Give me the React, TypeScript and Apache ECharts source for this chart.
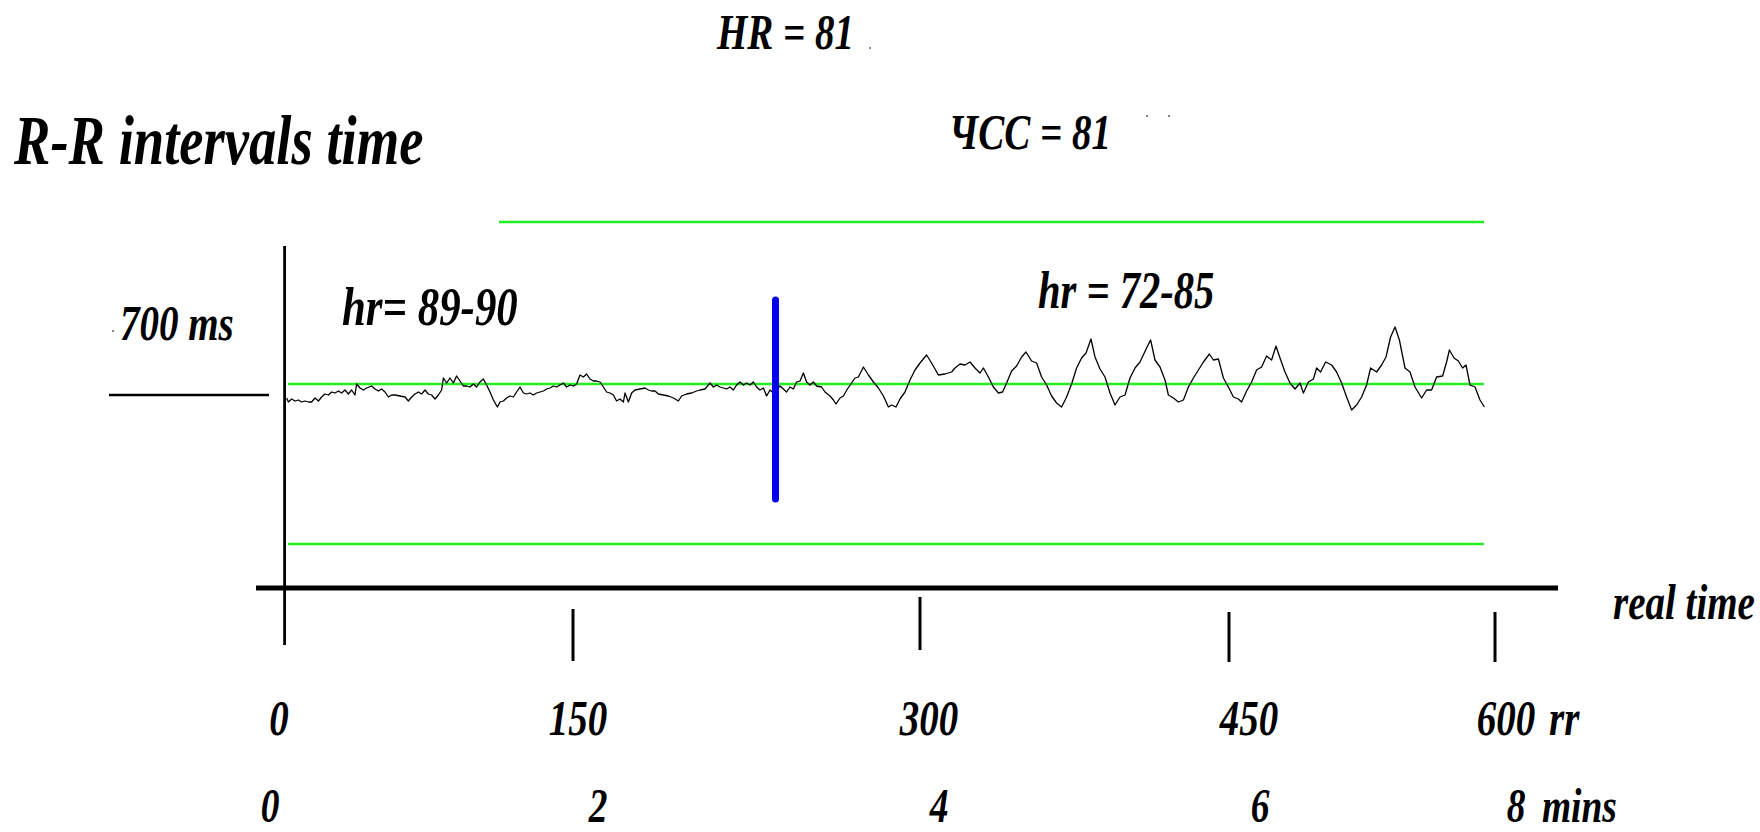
import React, { useEffect, useRef } from "react";
import * as echarts from "echarts";

// ---- Data (beat number = rr index, value = R-R interval in ms) ----
const restSegment: [number, number][] = [
  [0.3, 697], [1.2, 693], [2.8, 696], [4.5, 694], [6.2, 695], [7.8, 693], [9.5, 694], [11.2, 693],
  [12.8, 693], [14.5, 697], [16.2, 694], [17.8, 698], [19.5, 701], [21.2, 700], [22.8, 703], [24.5, 702],
  [26.2, 704], [27.8, 702], [29.5, 705], [31.2, 701], [32.8, 705], [34.5, 700], [35.3, 711], [37, 707],
  [38.7, 705], [40.3, 707], [42.8, 709], [44.5, 706], [46.2, 704], [47.8, 706], [49.5, 703], [51.2, 698],
  [52.8, 700], [54.5, 700], [57, 699], [59.5, 698], [61.2, 694], [62.8, 698], [64.5, 701], [66.2, 703],
  [67.8, 701], [69.5, 705], [71.2, 701], [72.8, 700], [74.5, 696], [76.2, 700], [77.8, 705], [78.7, 717],
  [80.3, 712], [82, 717], [83.7, 712], [85.3, 719], [87, 714], [88.7, 709], [90.3, 709], [92, 708],
  [93.7, 711], [95.3, 708], [97, 713], [98.7, 716], [100.3, 710], [102, 703], [103.7, 695], [105.7, 688],
  [107, 693], [108.7, 694], [110.3, 697], [112, 699], [113.7, 698], [115.3, 703], [117, 708], [118.7, 702],
  [120.3, 701], [122, 702], [123.7, 700], [125.3, 702], [127, 703], [128.7, 704], [130.3, 706], [132, 707],
  [133.7, 709], [135.3, 708], [137, 710], [138.7, 712], [140.3, 708], [142, 710], [143.7, 709], [145.3, 711],
  [147, 720], [148.7, 718], [150.3, 721], [152, 716], [153.7, 714], [155.3, 714], [157, 713], [158.7, 708],
  [160.3, 703], [162, 702], [163.7, 700], [165.3, 694], [167, 696], [168.7, 693], [169.5, 702], [171.2, 693],
  [172.8, 702], [174.5, 705], [177, 706], [179.5, 707], [181.2, 705], [182.8, 704], [184.5, 704], [186.2, 701],
  [188.7, 700], [191.2, 699], [193.7, 697], [196.2, 694], [197.8, 699], [200.3, 701], [202.8, 702], [205.3, 704],
  [207, 705], [209.5, 706], [212, 712], [213.7, 708], [215.3, 710], [217, 708], [218.7, 707], [220.3, 706],
  [222, 708], [223.7, 705], [225.3, 710], [227, 713], [228.7, 710], [230.3, 712], [232, 710], [233.7, 713],
  [235.3, 708],
];

const transitionSegment: [number, number][] = [
  [237, 705], [238.7, 707], [240.3, 699], [242, 705], [243.7, 702], [247, 709], [248.7, 706], [250.3, 703],
  [252, 708], [253.7, 706], [255.3, 713], [257, 714], [258.7, 722], [260.3, 713], [262, 710], [263.7, 713],
  [265.3, 709], [267.8, 708], [269.5, 703], [272, 699], [273.7, 695], [275, 691], [277, 697], [278.7, 699],
  [280.7, 706], [282.8, 712], [284.5, 717], [286.2, 718], [288.7, 728], [291.2, 720], [293.7, 713], [296.2, 707],
  [298.7, 699], [301.2, 688], [302.8, 690], [305, 688], [307, 696], [309.5, 703], [312, 715], [314.5, 725],
  [317, 732], [320.3, 740], [322.8, 732], [326.2, 720], [329.5, 721], [332.8, 723], [334.5, 727], [337, 731],
  [339.5, 730], [342, 733], [344.5, 727], [347, 722], [348.7, 727], [351.2, 718], [353.7, 708], [356.2, 702],
  [358.3, 703], [360.3, 712], [362.8, 724], [365.3, 729], [367.8, 738], [370, 743], [372.8, 734], [375.3, 732],
  [377.8, 718], [380.3, 710], [382.8, 699], [385.3, 692], [387.8, 688], [390.3, 698], [392.8, 711], [395.3, 727],
  [397.8, 737], [400, 742], [402.5, 756], [404.5, 738], [407, 726], [409.5, 718], [412, 702], [414.5, 690],
  [417, 698], [419.5, 700], [422, 717], [424.5, 727], [427, 733], [430.3, 747], [432.3, 755],
];

const loadSegment: [number, number][] = [
  [434.5, 735], [437, 728], [439.5, 715], [441.2, 700], [443.7, 697], [446.2, 693], [448.7, 695], [451.2, 708],
  [453.7, 717], [456.2, 725], [458.7, 733], [461.7, 741], [463.7, 735], [466.2, 736], [468.7, 717], [471.2, 708],
  [473.7, 698], [476.2, 696], [477.8, 693], [480.3, 704], [482.8, 713], [485.3, 725], [487.8, 728], [490.3, 739],
  [492.8, 735], [495, 749], [497, 737], [499.5, 723], [502, 712], [504.5, 706], [507, 712], [508.7, 702],
  [511.2, 713], [513.7, 716], [515.3, 727], [517.3, 723], [519.8, 733], [522.8, 730], [525.3, 723], [527.8, 712],
  [530.3, 698], [532.8, 685], [535.3, 690], [537.8, 698], [540.3, 710], [542.3, 727], [545.3, 723], [547.8, 730],
  [550, 738], [552.3, 758], [554.5, 768], [556.7, 755], [559.5, 727], [562, 723], [564.5, 708], [567.8, 697],
  [570.3, 705], [572.8, 705], [575.3, 718], [578.3, 719], [580.3, 733], [581.7, 745], [584, 737], [586.2, 734],
  [588.3, 727], [590, 730], [592, 710], [594.5, 708], [597, 695], [599.2, 688],
];

// Reference levels (ms) and their beat ranges
const upperLevelMs = 873;
const upperLevelBeats = [106.5, 599];
const meanLevelMs = 711;
const lowerLevelMs = 551;
const levelBeats = [1, 599];

// Blue marker: switch point
const switchBeat = 244.75;
const switchRangeMs = [596, 795];

// "700 ms" reference
const refMs = 700;
const refBeats = [-88.5, -8.5];

// Axis drawing (hand drawn axes of the figure)
const xAxisLineMs = 507;
const xAxisLineBeats = [-15, 636];
const yAxisLineBeat = -0.7;
const yAxisLineMs = [849, 450];

// Tick marks (hand drawn positions) and labels
const tickMarkAt = [143.5, 317, 471.5, 604.5];
const tickTopMs = [486, 498, 483, 483];
const tickBottomMs = [434, 445, 433, 433];
const rrTickLabels = ["0", "150", "300", "450", "600"];
const rrLabelAt = [-3.5, 146, 321.5, 481.5, 610];
const minuteTickLabels = ["0", "2", "4", "6", "8"];
const minuteLabelAt = [-8, 156, 326.5, 487, 615];

const FONT_FAMILY = '"Liberation Serif", "Times New Roman", serif';
const SX = 0.78;
const fnt = (size: number) => `italic bold ${size}px ${FONT_FAMILY}`;

function gText(text: string, x: number, y: number, size: number, align = "left", lineHeight?: number) {
  const style: any = {
    text,
    font: fnt(size),
    fill: "#000",
    align,
    textAlign: align,
    verticalAlign: "middle",
    textVerticalAlign: "middle",
  };
  if (lineHeight) style.lineHeight = lineHeight;
  return { type: "text", x, y, scaleX: SX, silent: true, style };
}

function dot(x: number, y: number) {
  return { type: "circle", shape: { cx: x, cy: y, r: 1.1 }, style: { fill: "#777" }, silent: true };
}

export default function App() {
  const ref = useRef<HTMLDivElement>(null);

  useEffect(() => {
    document.body.style.margin = "0";
    if (!ref.current) return;
    const chart = echarts.init(ref.current, undefined, { renderer: "svg" });

    const blackLine = (data: number[][], width: number) => ({
      type: "line",
      data,
      symbol: "none",
      silent: true,
      clip: false,
      lineStyle: { color: "#000", width },
    });
    const greenLine = (data: number[][]) => ({
      type: "line",
      data,
      symbol: "none",
      silent: true,
      lineStyle: { color: "#22ee22", width: 2.5 },
    });

    const signal = [...restSegment, ...transitionSegment, ...loadSegment];

    const labelSeries = (
      positions: number[],
      labels: string[],
      offset: number,
      size: number,
      lineHeight: number
    ) => ({
      type: "custom",
      silent: true,
      data: positions.map((v) => [v, xAxisLineMs]),
      renderItem: (p: any, api: any) => {
        const c = api.coord([api.value(0), api.value(1)]);
        return {
          type: "text",
          x: c[0],
          y: c[1] + offset,
          scaleX: SX,
          style: {
            text: labels[p.dataIndex],
            font: fnt(size),
            fill: "#000",
            align: "center",
            textAlign: "center",
            verticalAlign: "middle",
            textVerticalAlign: "middle",
            lineHeight,
          },
        };
      },
    });

    const option: any = {
      animation: false,
      backgroundColor: "#fff",
      grid: { left: 0, right: 0, top: 0, bottom: 0, containLabel: false },
      xAxis: { type: "value", min: -143, max: 737, show: false },
      yAxis: { type: "value", min: 263, max: 1095, show: false },
      series: [
        greenLine([[upperLevelBeats[0], upperLevelMs], [upperLevelBeats[1], upperLevelMs]]),
        greenLine([[levelBeats[0], meanLevelMs], [levelBeats[1], meanLevelMs]]),
        greenLine([[levelBeats[0], lowerLevelMs], [levelBeats[1], lowerLevelMs]]),
        {
          type: "line",
          data: signal,
          symbol: "none",
          silent: true,
          lineStyle: { color: "#000", width: 1.3, join: "round" },
        },
        {
          type: "line",
          data: [[switchBeat, switchRangeMs[0]], [switchBeat, switchRangeMs[1]]],
          symbol: "none",
          silent: true,
          lineStyle: { color: "#0000ee", width: 7, cap: "round" },
        },
        blackLine([[refBeats[0], refMs], [refBeats[1], refMs]], 2.5),
        blackLine([[xAxisLineBeats[0], xAxisLineMs], [xAxisLineBeats[1], xAxisLineMs]], 5),
        blackLine([[yAxisLineBeat, yAxisLineMs[0]], [yAxisLineBeat, yAxisLineMs[1]]], 2.8),
        {
          type: "custom",
          silent: true,
          data: tickMarkAt.map((v, i) => [v, tickTopMs[i], tickBottomMs[i]]),
          renderItem: (_p: any, api: any) => {
            const a = api.coord([api.value(0), api.value(1)]);
            const b = api.coord([api.value(0), api.value(2)]);
            return {
              type: "line",
              shape: { x1: a[0], y1: a[1], x2: b[0], y2: b[1] },
              style: { stroke: "#000", lineWidth: 3 },
            };
          },
        },
        labelSeries(rrLabelAt, rrTickLabels, 130, 50, 40),
        labelSeries(minuteLabelAt, minuteTickLabels, 218, 48, 34),
      ],
      graphic: [
        gText("HR = 81", 717, 32, 50),
        dot(870, 48),
        gText("R-R intervals time", 14, 141, 70),
        gText("ЧСС = 81", 949, 132, 50),
        dot(1147, 116),
        dot(1169, 116),
        dot(113, 331),
        gText("700 ms", 120, 323, 50),
        gText("hr= 89-90", 342, 307, 55),
        gText("hr = 72-85", 1038, 290, 52),
        gText("real time", 1613, 602, 50),
        gText("rr", 1549, 718, 50),
        gText("mins", 1542, 806, 48, "left", 34),
      ],
    };

    chart.setOption(option);
    return () => chart.dispose();
  }, []);

  return (
    <div
      ref={ref}
      style={{ position: "absolute", left: 0, top: 0, width: 1760, height: 832, background: "#fff" }}
    />
  );
}
